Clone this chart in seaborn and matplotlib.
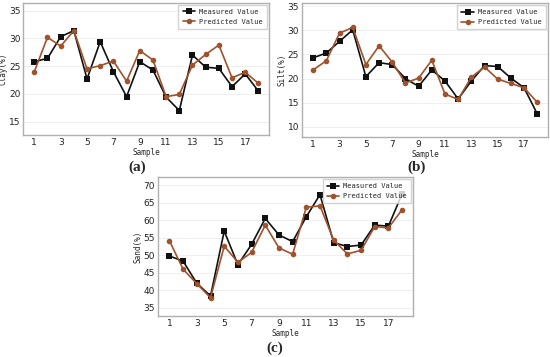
import pandas as pd
import seaborn as sns
import matplotlib.pyplot as plt

samples = list(range(1, 19))

clay_measured = [25.8, 26.4, 30.3, 31.4, 22.7, 29.4, 24.0, 19.5, 25.8, 24.3, 19.4, 17.0, 27.0, 24.8, 24.6, 21.3, 23.6, 20.5]
clay_predicted = [24.0, 30.2, 28.6, 31.4, 24.5, 25.1, 25.9, 22.3, 27.8, 26.1, 19.5, 19.9, 25.2, 27.1, 28.8, 22.9, 23.9, 21.9]

silt_measured = [24.3, 25.3, 27.7, 30.1, 20.4, 23.3, 22.9, 20.0, 18.4, 21.8, 19.5, 15.8, 19.5, 22.7, 22.5, 20.1, 18.1, 12.7]
silt_predicted = [21.8, 23.7, 29.4, 30.6, 22.9, 26.8, 23.4, 19.1, 20.1, 23.8, 16.8, 15.7, 20.3, 22.4, 19.9, 19.0, 18.1, 15.1]

sand_measured = [49.8, 48.3, 42.0, 38.4, 56.9, 47.3, 53.1, 60.5, 55.8, 53.9, 61.0, 67.3, 53.6, 52.5, 52.9, 58.6, 58.3, 67.5]
sand_predicted = [54.1, 46.0, 41.9, 37.9, 52.6, 48.0, 50.8, 58.6, 52.1, 50.3, 63.7, 64.1, 54.3, 50.4, 51.4, 58.2, 57.8, 63.0]

series_names = ["Measured Value", "Predicted Value"]

sns.set_style("white")
mono = ["DejaVu Sans Mono"]
colors = {"Measured Value": "#111111", "Predicted Value": "#a0522d"}
markers = {"Measured Value": "s", "Predicted Value": "o"}

fig = plt.figure(figsize=(5.5, 3.57), dpi=100)

panels = [
    # (measured, predicted, ylabel, rect, ylim, yticks, tag, tag position)
    (clay_measured, clay_predicted, "Clay(%)", [0.042, 0.622, 0.447, 0.370], (12.6, 36.4), range(15, 36, 5), "(a)", (0.249, 0.532)),
    (silt_measured, silt_predicted, "Silt(%)", [0.549, 0.616, 0.447, 0.375], (7.9, 35.6), range(10, 36, 5), "(b)", (0.758, 0.532)),
    (sand_measured, sand_predicted, "Sand(%)", [0.287, 0.115, 0.464, 0.389], (32.7, 72.3), range(35, 71, 5), "(c)", (0.5, 0.025)),
]

for meas, pred, ylab, rect, ylim, yticks, tag, tagpos in panels:
    ax = fig.add_axes(rect)
    df = pd.DataFrame({
        "Sample": samples * 2,
        "value": meas + pred,
        "series": [series_names[0]] * len(samples) + [series_names[1]] * len(samples),
    })
    sns.lineplot(data=df, x="Sample", y="value", hue="series", style="series",
                 palette=colors, markers=markers, dashes=False, markersize=4,
                 markeredgewidth=0, linewidth=1.2, ax=ax)
    ax.set_xlim(0.15, 18.8)
    ax.set_ylim(*ylim)
    ax.set_xticks(range(1, 18, 2))
    ax.set_yticks(list(yticks))
    ax.tick_params(labelsize=6.5, length=0, pad=2, colors="#222222")
    ax.yaxis.grid(True, color="#ececec", linewidth=0.6)
    ax.set_axisbelow(True)
    for sp in ax.spines.values():
        sp.set_color("#b0b0b0")
        sp.set_linewidth(1.0)
    ax.set_xlabel("Sample", fontsize=5.5, family=mono, labelpad=1)
    ax.set_ylabel(ylab, fontsize=5.5, family=mono)
    # keep the y label close to the tick labels so it stays inside the figure
    ax.yaxis.set_label_coords(-0.062, 0.5)
    leg = ax.legend(loc="upper right", prop={"family": mono, "size": 5},
                    frameon=True, fancybox=False, edgecolor="#c8c8c8",
                    handlelength=1.8, borderpad=0.6, labelspacing=0.6,
                    handletextpad=0.6, borderaxespad=0.25)
    leg.set_title(None)
    leg.set_zorder(5)
    fig.text(tagpos[0], tagpos[1], tag, fontsize=11, family="Liberation Serif",
             fontweight="bold", ha="center", va="center")

fig.savefig("out.png", dpi=100)
